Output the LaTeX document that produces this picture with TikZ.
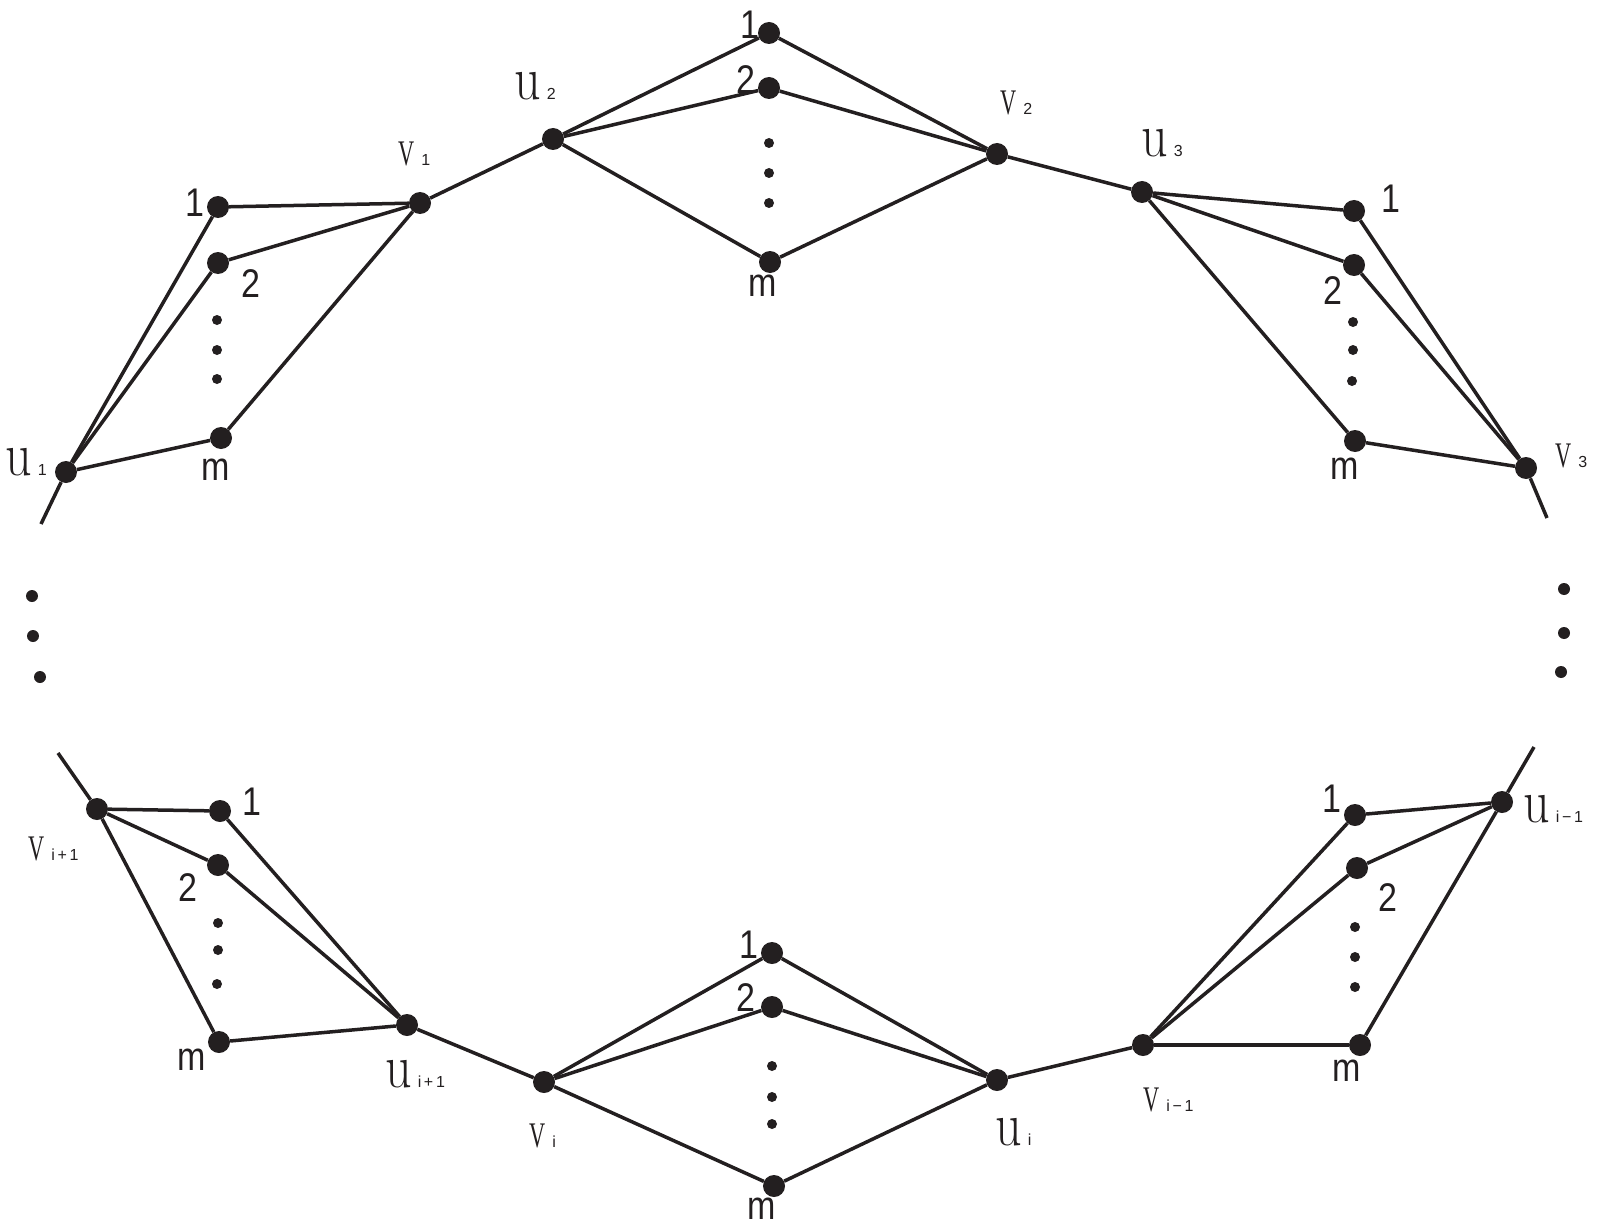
\documentclass[tikz,border=0pt]{standalone}
\usepackage{fontspec}
\newfontfamily\serifF{Liberation Serif}
\newfontfamily\sansF{Liberation Sans}
\definecolor{ink}{HTML}{231F20}
\newcommand\ufnt{\rmfamily\fontsize{40}{42}\selectfont}
\newcommand\vfnt{\serifF\fontsize{36}{38}\selectfont}
\newcommand\sfnt{\sansF\fontsize{16}{18}\selectfont}
\newcommand\nfnt{\sansF\fontsize{40}{42}\selectfont}
\newcommand\ulab[1]{\scalebox{1.3}[1.55]{\ufnt u}\hspace{6pt}{\sfnt #1}}
\newcommand\vlab[1]{\scalebox{0.62}[1]{\vfnt V}\hspace{7pt}{\sfnt #1}}
\newcommand\nlab[1]{\scalebox{0.85}[1]{\nfnt #1}}
\begin{document}
\begin{tikzpicture}[x=1pt,y=-1pt,
  vtx/.style={circle,fill=ink,draw=none,inner sep=0pt,minimum size=22pt},
  ell/.style={circle,fill=ink,draw=none,inner sep=0pt,minimum size=10pt},
  sdot/.style={circle,fill=ink,draw=none,inner sep=0pt,minimum size=12pt},
  num/.style={inner sep=0pt,text=ink},
  lab/.style={inner sep=0pt,anchor=base west,text=ink},
  link/.style={draw=ink,line width=3.5pt}]
\useasboundingbox (0,0) rectangle (1600,1225);
% ---- vertices ----
\node[vtx] (u1) at (66,472) {};
\node[vtx] (L1) at (218,207) {};
\node[vtx] (L2) at (218,263) {};
\node[vtx] (Lm) at (221,438) {};
\node[vtx] (v1) at (420,203) {};
\node[vtx] (u2) at (553,139) {};
\node[vtx] (T1) at (769,33) {};
\node[vtx] (T2) at (769,88) {};
\node[vtx] (Tm) at (770,262) {};
\node[vtx] (v2) at (997,154) {};
\node[vtx] (u3) at (1142,192) {};
\node[vtx] (R1) at (1354,211) {};
\node[vtx] (R2) at (1354,265) {};
\node[vtx] (Rm) at (1355,441) {};
\node[vtx] (v3) at (1526,468) {};
\node[vtx] (ui1) at (1502,802) {};
\node[vtx] (E1) at (1355,815) {};
\node[vtx] (E2) at (1357,868) {};
\node[vtx] (Em) at (1360,1045) {};
\node[vtx] (vi1) at (1143,1045) {};
\node[vtx] (ui) at (997,1080) {};
\node[vtx] (M1) at (772,953) {};
\node[vtx] (M2) at (772,1007) {};
\node[vtx] (Mm) at (774,1186) {};
\node[vtx] (vi) at (544,1082) {};
\node[vtx] (uip) at (407,1025) {};
\node[vtx] (B1) at (220,811) {};
\node[vtx] (B2) at (218,865) {};
\node[vtx] (Bm) at (219,1042) {};
\node[vtx] (vip) at (97,809) {};
% ---- free ends ----
\coordinate (c1) at (41,524);
\coordinate (c2) at (58,753);
\coordinate (c3) at (1547,518);
\coordinate (c4) at (1534,747);
% ---- ellipsis dots ----
\node[ell] (Ld1) at (217,320) {};
\node[ell] (Ld2) at (217,350) {};
\node[ell] (Ld3) at (217,379) {};
\node[ell] (Td1) at (769,143) {};
\node[ell] (Td2) at (769,173) {};
\node[ell] (Td3) at (769,203) {};
\node[ell] (Rd1) at (1353,322) {};
\node[ell] (Rd2) at (1353,350) {};
\node[ell] (Rd3) at (1352,381) {};
\node[ell] (Ed1) at (1355,927) {};
\node[ell] (Ed2) at (1355,957) {};
\node[ell] (Ed3) at (1355,987) {};
\node[ell] (Md1) at (772,1066) {};
\node[ell] (Md2) at (772,1097) {};
\node[ell] (Md3) at (772,1124) {};
\node[ell] (Bd1) at (218,923) {};
\node[ell] (Bd2) at (218,950) {};
\node[ell] (Bd3) at (217,984) {};
\node[sdot] (Sl1) at (32,596) {};
\node[sdot] (Sl2) at (33,636) {};
\node[sdot] (Sl3) at (40,677) {};
\node[sdot] (Sr1) at (1564,589) {};
\node[sdot] (Sr2) at (1564,633) {};
\node[sdot] (Sr3) at (1561,672) {};
% ---- edges ----
\foreach \a in {u1,v1} \foreach \b in {L1,L2,Lm} \draw[link] (\a) -- (\b);
\foreach \a in {u2,v2} \foreach \b in {T1,T2,Tm} \draw[link] (\a) -- (\b);
\foreach \a in {u3,v3} \foreach \b in {R1,R2,Rm} \draw[link] (\a) -- (\b);
\foreach \a in {ui1,vi1} \foreach \b in {E1,E2,Em} \draw[link] (\a) -- (\b);
\foreach \a in {ui,vi} \foreach \b in {M1,M2,Mm} \draw[link] (\a) -- (\b);
\foreach \a in {uip,vip} \foreach \b in {B1,B2,Bm} \draw[link] (\a) -- (\b);
\draw[link] (v1) -- (u2);
\draw[link] (v2) -- (u3);
\draw[link] (v3) -- (c3);
\draw[link] (c4) -- (ui1);
\draw[link] (vi1) -- (ui);
\draw[link] (vi) -- (uip);
\draw[link] (vip) -- (c2);
\draw[link] (u1) -- (c1);
% ---- vertex labels ----
\node[lab] (lu1) at (5,475) {\ulab{1}};
\node[lab] (lv1) at (398,166) {\vlab{1}};
\node[lab] (lu2) at (514,100) {\ulab{2}};
\node[lab] (lv2) at (1000,115) {\vlab{2}};
\node[lab] (lu3) at (1141,157) {\ulab{3}};
\node[lab] (lv3) at (1555,467) {\vlab{3}};
\node[lab] (lui1) at (1523,822) {\ulab{i\,−\,1}};
\node[lab] (lvi1) at (1143,1111) {\vlab{i\,−\,1}};
\node[lab] (lui) at (995,1145) {\ulab{i}};
\node[lab] (lvi) at (529,1147) {\vlab{i}};
\node[lab] (luip) at (385,1087) {\ulab{i\,+\,1}};
\node[lab] (lvip) at (28,860) {\vlab{i\,+\,1}};
% ---- number labels ----
\node[num] (nL1) at (195,203) {\nlab{1}};
\node[num] (nL2) at (251,284) {\nlab{2}};
\node[num] (nLm) at (216,470) {\nlab{m}};
\node[num] (nT1) at (750,25) {\nlab{1}};
\node[num] (nT2) at (746,80) {\nlab{2}};
\node[num] (nTm) at (763,286) {\nlab{m}};
\node[num] (nR1) at (1391,199) {\nlab{1}};
\node[num] (nR2) at (1333,291) {\nlab{2}};
\node[num] (nRm) at (1345,469) {\nlab{m}};
\node[num] (nB1) at (252,802) {\nlab{1}};
\node[num] (nB2) at (188,888) {\nlab{2}};
\node[num] (nBm) at (192,1060) {\nlab{m}};
\node[num] (nM1) at (749,945) {\nlab{1}};
\node[num] (nM2) at (746,998) {\nlab{2}};
\node[num] (nMm) at (762,1209) {\nlab{m}};
\node[num] (nE1) at (1332,799) {\nlab{1}};
\node[num] (nE2) at (1388,898) {\nlab{2}};
\node[num] (nEm) at (1347,1071) {\nlab{m}};
\end{tikzpicture}
\end{document}
